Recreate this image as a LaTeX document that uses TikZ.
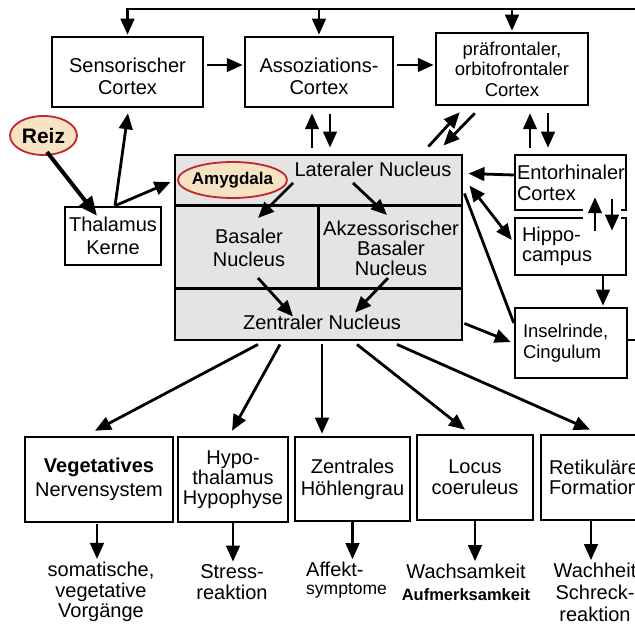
\documentclass[tikz,border=0pt]{standalone}
\usepackage{fontspec}
\setmainfont{Liberation Sans}
\usetikzlibrary{arrows.meta,calc}
\definecolor{amyfill}{HTML}{E4E4E4}
\definecolor{ovfill}{HTML}{F5E3C4}
\definecolor{ovline}{HTML}{C3262F}
\newcommand\fsz[2]{\fontsize{#1}{#2}\selectfont}
\begin{document}
\begin{tikzpicture}[x=1pt,y=-1pt,
  >={Triangle[length=16pt,width=13.5pt]},
  conn/.style={line width=2.8pt,->},
  dconn/.style={line width=2.8pt,<->},
  plain/.style={line width=2.8pt},
  box/.style={draw,line width=2.5pt,inner sep=0pt,align=center,font=\fsz{20}{22}},
  lbl/.style={inner sep=0pt,align=center,font=\fsz{20}{21}},
  oval/.style={draw=ovline,fill=ovfill,line width=1.8pt}
]
\fill[white] (0,0) rectangle (635,628);
\useasboundingbox (0,0) rectangle (635,628);

% ---------- boxes ----------
\node[box,minimum width=151pt,minimum height=70pt] (sens) at (127.5,72) {\rule{0pt}{23pt}Sensorischer\\Cortex};
\node[box,minimum width=148pt,minimum height=70pt] (assoz) at (319,72) {\rule{0pt}{23pt}Assoziations-\\Cortex};
\node[box,minimum width=152pt,minimum height=72pt,font=\fsz{18.5}{20.5}] (praef) at (512,69) {präfrontaler,\\orbitofrontaler\\Cortex};
\node[box,minimum width=96pt,minimum height=58pt,font=\fsz{20}{23}] (thal) at (113,236) {Thalamus\\Kerne};

\node[box,align=left,text width=107pt,inner xsep=2pt,minimum width=111pt,minimum height=55pt,font=\fsz{20}{21}] (ento) at (570.5,182.5) {Entorhinaler\\Cortex};
\node[box,align=left,text width=97pt,inner xsep=7pt,minimum width=111pt,minimum height=57pt,font=\fsz{20}{20}] (hippo) at (570.5,246.5) {Hippo-\\campus};
\node[box,align=left,text width=96pt,inner xsep=8pt,minimum width=112pt,minimum height=70pt,font=\fsz{18.5}{21}] (insel) at (571,343) {Inselrinde,\\Cingulum};

\node[box,minimum width=148pt,minimum height=85pt,font=\fsz{20}{24}] (veg) at (99,479.5) {\textbf{Vegetatives}\\Nervensystem};
\node[box,minimum width=110pt,minimum height=85pt,font=\fsz{20}{20}] (hypo) at (233,479.5) {Hypo-\\thalamus\\Hypophyse};
\node[box,minimum width=115pt,minimum height=84pt,font=\fsz{20}{22}] (zhg) at (352.5,479) {Zentrales\\Höhlengrau};
\node[box,minimum width=116pt,minimum height=85pt,font=\fsz{20}{21}] (locus) at (475,477.5) {Locus\\coeruleus};
\node[box,minimum width=120pt,minimum height=85pt,text width=104pt,align=left,font=\fsz{20}{20}] (retik) at (601,477.5) {Retikuläre\\Formation};

% ---------- amygdala complex ----------
\node[draw,fill=amyfill,line width=2.9pt,minimum width=287pt,minimum height=185pt,inner sep=0pt] (amy) at (318.5,247.5) {};
\draw[line width=2.5pt] ($(amy.north west)+(0,52)$) -- ($(amy.north east)+(0,52)$);
\draw[line width=2.5pt] ($(amy.north west)+(0,135)$) -- ($(amy.north east)+(0,135)$);
\draw[line width=2.5pt] ($(amy.north west)+(145,52)$) -- ($(amy.north west)+(145,135)$);

\coordinate (amylc) at (232.5,180);
\draw[oval] (amylc) ellipse [x radius=54.5pt,y radius=18pt];
\node[inner sep=0pt,font=\bfseries\fsz{17}{18}] (amyl) at (amylc) {Amygdala};
\node[lbl] (lat) at (373,169) {Lateraler Nucleus};
\node[lbl,font=\fsz{20}{23}] (bas) at (249,248) {Basaler\\Nucleus};
\node[lbl,font=\fsz{20}{20}] (akz) at (391,248) {Akzessorischer\\Basaler\\Nucleus};
\node[lbl] (zen) at (322,322.5) {Zentraler Nucleus};

% ---------- Reiz ----------
\coordinate (reizc) at (43.5,135.5);
\draw[oval] (reizc) ellipse [x radius=33.5pt,y radius=19.5pt];
\node[inner sep=0pt,font=\bfseries\fsz{21}{22}] (reiz) at (reizc) {Reiz};

% ---------- outcome texts ----------
\node[lbl,font=\fsz{20}{20.5}] (o1) at (101,592) {somatische,\\vegetative\\Vorgänge};
\node[lbl,font=\fsz{20}{21}] (o2) at (232,582.5) {Stress-\\reaktion};
\node[lbl,align=left,anchor=west,font=\fsz{20}{18}] (o3) at (306,580.5) {Affekt-\\{\fsz{17.5}{18}symptome}};
\node[lbl,font=\fsz{20}{22}] (o4) at (466,582.7) {Wachsamkeit\\{\bfseries\fsz{16.5}{22}Aufmerksamkeit}};
\node[lbl,font=\fsz{20}{22}] (o5) at (595,592.7) {Wachheit\\Schreck-\\reaktion};

% ---------- connectors ----------
\coordinate (top) at (0,9);
\coordinate (topR) at (640,9);
\coordinate (edgeR) at (640,340);
\draw[conn,shorten >=1pt] (topR) -- (sens.north |- top) -- (sens.north);
\draw[conn,shorten >=1pt] (assoz.north |- top) -- (assoz.north);
\draw[conn,shorten >=1pt] (praef.north |- top) -- (praef.north);

\draw[conn,shorten <=3pt,shorten >=1pt] ($(sens.east)+(0,-7)$) -- ($(assoz.west)+(0,-7)$);
\draw[conn,shorten <=3pt,shorten >=1pt] ($(assoz.east)+(0,-7)$) -- ($(praef.west)+(0,-4)$);

\draw[line width=4pt,-{Triangle[length=19pt,width=16pt]}] ($(reiz)+(3.5,16.5)$) -- ($(thal.north)+(-16,10)$);
\draw[conn] ($(thal.north)+(2,0)$) -- ($(sens.south)+(0.5,5)$);
\draw[conn] ($(thal.north)+(2,0)$) -- ($(amy.west)+(-3,-65.5)$);

\draw[conn] ($(amy.north)+(-6.5,-6)$) -- ($(assoz.south)+(-7,5)$);
\draw[conn] ($(assoz.south)+(11,6)$) -- ($(amy.north)+(11.5,-6)$);
\draw[conn] ($(amy.north east)+(-35,-7)$) -- ($(praef.south west)+(25,6)$);
\draw[conn] ($(praef.south west)+(40,7)$) -- ($(amy.north east)+(-20,-8)$);
\draw[conn] ($(ento.north)+(-40.5,-6)$) -- ($(praef.south)+(18,7)$);
\draw[conn] ($(praef.south)+(36,7)$) -- ($(ento.north)+(-22.5,-6)$);

\draw[conn] ($(ento.west)+(0,-7.5)$) -- ($(amy.north east)+(5,20)$);
\draw[dconn] ($(amy.north east)+(6,32)$) -- ($(hippo.west)+(-2,-6.5)$);
\draw[plain] ($(amy.north east)+(1,40)$) -- ($(insel.west)+(0,-20)$);
\draw[conn] ($(amy.south east)+(1,-18)$) -- ($(insel.west)+(-3,-1)$);
\draw[plain] ($(insel.east)+(0,-3)$) -- (edgeR);
\draw[conn] ($(hippo.south)+(32.5,0)$) -- ($(insel.north)+(32,-1)$);

\fill[white] (583,204) rectangle (621,224);
\draw[conn] ($(hippo.north)+(24.5,14)$) -- ($(ento.south)+(24.5,-14)$);
\draw[conn] ($(ento.south)+(41.5,-12)$) -- ($(hippo.north)+(41.5,14)$);

\draw[conn] ($(lat)+(-80,14)$) -- ($(bas)+(9,-30)$);
\draw[conn] ($(lat)+(-20,14)$) -- ($(akz)+(-4,-33)$);
\draw[conn] ($(bas)+(9,30)$) -- ($(zen)+(-29,-6)$);
\draw[conn] ($(akz)+(-3,30)$) -- ($(zen)+(33,-10)$);

\draw[conn] ($(amy.south)+(-60.5,3)$) -- ($(veg.north)+(-4,-5)$);
\draw[conn] ($(amy.south)+(-38.5,3)$) -- ($(hypo.north)+(-1,-5)$);
\draw[conn] ($(amy.south)+(3.5,3)$) -- ($(zhg.north)+(-30.5,-2)$);
\draw[conn] ($(amy.south)+(38.5,3)$) -- ($(locus.north)+(-10,-4)$);
\draw[conn] ($(amy.south)+(78.5,3)$) -- ($(retik.north)+(-11,-4)$);

\draw[conn,shorten >=3pt] ($(veg.south)+(-2,1)$) -- ($(o1.north)+(-4,0)$);
\draw[conn,shorten >=3pt] (hypo.south) -- (hypo.south |- o2.north);
\draw[conn,shorten >=3pt] (zhg.south) -- (zhg.south |- o3.north);
\draw[conn,shorten >=3pt] (locus.south) -- (locus.south |- o4.north);
\draw[conn,shorten >=3pt] ($(retik.south)+(-10,0)$) -- ($(o5.north)+(-4,0)$);
\end{tikzpicture}
\end{document}
